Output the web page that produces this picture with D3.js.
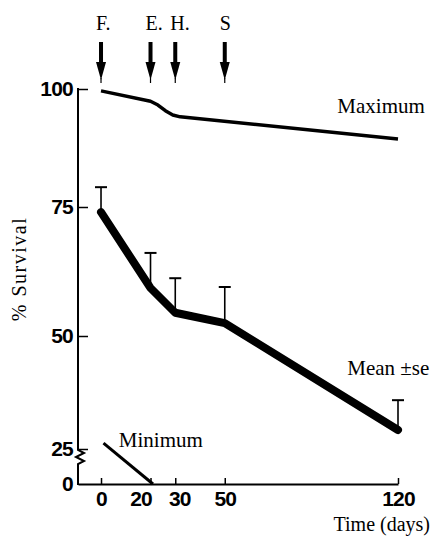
<!DOCTYPE html>
<html>
<head>
<meta charset="utf-8">
<script src="https://cdn.jsdelivr.net/npm/d3@7"></script>
<style>
  body { margin: 0; background: #fff; }
  svg { display: block; }
</style>
</head>
<body>
<svg id="chart" width="433" height="537"></svg>
<script>
// values
const meanDays = [0, 20, 30, 50, 120]
const meanSurvival = [74.0, 59.3, 54.5, 52.5, 29.2]
const meanSe = [5.2, 6.8, 6.7, 7.0, 6.6]

const maxDays = [0, 20, 23, 26, 29, 32, 120]
const maxSurvival = [99.6, 97.4, 96.6, 95.4, 94.5, 94.1, 89.4]

const minDays = [1, 21]
const minSurvival = [26.3, 0]

const eventDays = [0, 20, 30, 50]
const eventLabels = ["F.", "E.", "H.", "S"]

const xTicks = [0, 20, 30, 50, 120]
const yTicks = [0, 25, 50, 75, 100]

const serif = "'Liberation Serif', 'Times New Roman', serif"
const sans = "'Liberation Sans', Arial, sans-serif"

const svg = d3.select("#chart")

const x = d3.scaleLinear()
    .domain([-9.3, 120])
    .range([78, 398])

// the original axis is hand drawn, so the spacing is a bit uneven
const y = d3.scaleLinear()
    .domain(yTicks)
    .range([484, 449, 336, 207, 89])

// x axis, ticks pointing up into the plot
const xAxis = svg.append("g")
    .attr("transform", `translate(0,${y(0)})`)
    .call(d3.axisBottom(x)
        .tickValues(xTicks)
        .tickSizeInner(-6)
        .tickSizeOuter(0)
        .tickPadding(7))
xAxis.select(".domain").attr("stroke-width", 2)
xAxis.selectAll(".tick line").attr("stroke-width", 1.5)
xAxis.selectAll(".tick text")
    .attr("dx", d => d === 20 ? -10 : d === 30 ? 4 : 0)
    .style("font-family", sans)
    .style("font-weight", "bold")
    .style("font-size", "21px")
    .style("letter-spacing", "-0.8px")
    .attr("fill", "#000")

// y axis, ticks pointing right
const yAxis = svg.append("g")
    .attr("transform", `translate(${x.range()[0]},0)`)
    .call(d3.axisLeft(y)
        .tickValues(yTicks)
        .tickSizeInner(-10)
        .tickSizeOuter(0)
        .tickPadding(5))
yAxis.select(".domain").remove()
yAxis.selectAll(".tick line")
    .attr("stroke-width", 1.5)
    .attr("display", d => d === 0 ? "none" : null)
yAxis.selectAll(".tick text")
    .style("font-family", sans)
    .style("font-weight", "bold")
    .style("font-size", "21px")
    .style("letter-spacing", "-0.8px")
    .attr("fill", "#000")

// axis line with the break between 0 and 25
const x0 = x.range()[0]
const yb = y(25)
svg.append("path")
    .attr("d", d3.line()([
        [x0, y(100) - 1], [x0, yb + 1], [x0 + 6, yb + 4], [x0 - 2, yb + 8],
        [x0 + 6, yb + 12], [x0, yb + 15], [x0, y(0) + 1]
    ]))
    .attr("fill", "none")
    .attr("stroke", "#000")
    .attr("stroke-width", 2)
    .attr("stroke-linejoin", "miter")

const line = d3.line()
    .x(d => x(d[0]))
    .y(d => y(d[1]))

// maximum
svg.append("path")
    .attr("d", line(d3.zip(maxDays, maxSurvival)))
    .attr("fill", "none")
    .attr("stroke", "#000")
    .attr("stroke-width", 3.5)
    .attr("stroke-linejoin", "round")

// minimum
svg.append("path")
    .attr("d", line(d3.zip(minDays, minSurvival)))
    .attr("fill", "none")
    .attr("stroke", "#000")
    .attr("stroke-width", 3)

// error bars (upper only)
const meanData = meanDays.map((d, i) => ({day: d, mean: meanSurvival[i], se: meanSe[i]}))
const bars = svg.append("g").selectAll("g")
    .data(meanData)
    .join("g")
bars.append("line")
    .attr("x1", d => x(d.day))
    .attr("x2", d => x(d.day))
    .attr("y1", d => y(d.mean))
    .attr("y2", d => y(d.mean + d.se))
    .attr("stroke", "#000")
    .attr("stroke-width", 1.6)
bars.append("line")
    .attr("x1", d => x(d.day) - 6)
    .attr("x2", d => x(d.day) + 6)
    .attr("y1", d => y(d.mean + d.se))
    .attr("y2", d => y(d.mean + d.se))
    .attr("stroke", "#000")
    .attr("stroke-width", 2)

// mean
svg.append("path")
    .attr("d", line(d3.zip(meanDays, meanSurvival)))
    .attr("fill", "none")
    .attr("stroke", "#000")
    .attr("stroke-width", 8)
    .attr("stroke-linejoin", "round")
    .attr("stroke-linecap", "round")

// event arrows at the top
const arrows = svg.append("g").selectAll("g")
    .data(eventDays)
    .join("g")
    .attr("transform", d => `translate(${x(d)},0)`)
arrows.append("rect")
    .attr("x", -2)
    .attr("y", 42)
    .attr("width", 4)
    .attr("height", 22)
    .attr("fill", "#000")
arrows.append("path")
    .attr("d", "M-5,62L5,62L0,80Z")
    .attr("fill", "#000")
arrows.append("line")
    .attr("y1", 78)
    .attr("y2", 83)
    .attr("stroke", "#000")
    .attr("stroke-width", 1.2)
arrows.append("text")
    .attr("x", -5)
    .attr("y", 30)
    .text((d, i) => eventLabels[i])
    .attr("font-family", serif)
    .attr("font-size", "20px")

// series labels
const labels = [
    {text: "Maximum", day: 95.5, val: 95},
    {text: "Mean \u00b1se", day: 99.5, val: 41.4},
    {text: "Minimum", day: 7.2, val: 25.4}
]
svg.append("g").selectAll("text")
    .data(labels)
    .join("text")
    .attr("x", d => x(d.day))
    .attr("y", d => y(d.val))
    .text(d => d.text)
    .attr("font-family", serif)
    .attr("font-size", "21px")

// axis titles
svg.append("text")
    .attr("x", 430)
    .attr("y", 531)
    .attr("text-anchor", "end")
    .text("Time (days)")
    .attr("font-family", serif)
    .attr("font-size", "20px")

svg.append("text")
    .attr("transform", "translate(26,269) rotate(-90)")
    .attr("text-anchor", "middle")
    .text("% Survival")
    .attr("font-family", serif)
    .attr("font-size", "20px")
    .attr("letter-spacing", "1.5px")
</script>
</body>
</html>
